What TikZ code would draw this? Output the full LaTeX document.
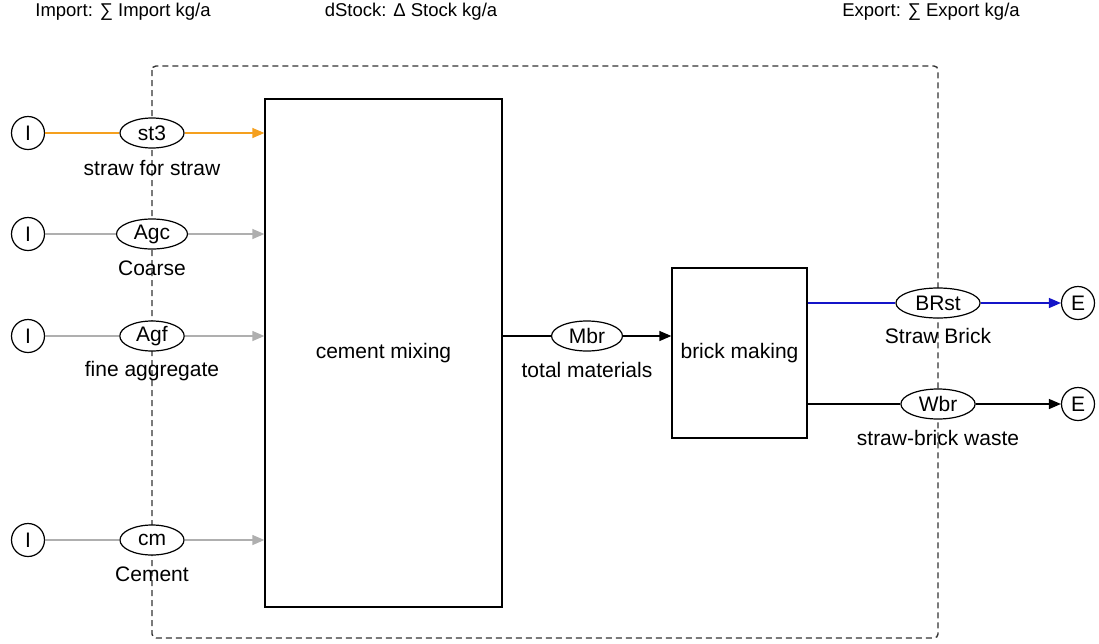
\documentclass[tikz,border=0pt]{standalone}
\usepackage{fontspec}
\setmainfont{Liberation Sans}
\usetikzlibrary{arrows.meta,shapes.geometric}
\definecolor{flowOrange}{RGB}{245,160,30}
\definecolor{flowGray}{RGB}{175,175,175}
\definecolor{flowBlue}{RGB}{20,20,200}
\tikzset{
  every node/.style={font=\fontsize{21}{23}\selectfont},
  headtxt/.style={inner sep=0pt,font=\fontsize{18.5}{20}\selectfont},
  proc/.style={draw,line width=1.3pt,inner sep=0pt},
  term/.style={draw,circle,line width=1.2pt,minimum size=33pt,inner sep=0pt},
  flowell/.style={draw,ellipse,line width=1.2pt,minimum width=64pt,minimum height=30pt,inner xsep=7pt,inner ysep=0pt,fill=white},
  flowlbl/.style={inner sep=0pt},
  conn/.style={line width=1.3pt},
  tip/.style={-{Triangle[length=12pt,width=10pt]}},
  sysb/.style={draw=black!80,line width=1.4pt,dash pattern=on 6pt off 4pt,rounded corners=4pt}
}
\begin{document}
\begin{tikzpicture}[x=1pt,y=-1pt]
\useasboundingbox (0,0) rectangle (1099,643);
% system boundary
\draw[sysb] (152,66) rectangle (938,638);
% header texts
\node[headtxt] (himp) at (123,12) {Import: ∑ Import kg/a};
\node[headtxt] (hst) at (411,12) {dStock: Δ Stock kg/a};
\node[headtxt] (hexp) at (931,12) {Export: ∑ Export kg/a};
% processes
\node[proc,minimum width=237pt,minimum height=508pt] (mix) at (383.5,353) {cement mixing};
\node[proc,minimum width=135pt,minimum height=170pt] (brick) at (739.5,353) {brick making};
% import terminals
\node[term] (i1) at (28,133) {I};
\node[term] (i2) at (28,234) {I};
\node[term] (i3) at (28,336) {I};
\node[term] (i4) at (28,540) {I};
% export terminals
\node[term] (e1) at (1078,303) {E};
\node[term] (e2) at (1078,404) {E};
% flow ellipses
\node[flowell] (st3) at (152,133) {st3};
\node[flowell] (agc) at (152,234) {Agc};
\node[flowell] (agf) at (152,336) {Agf};
\node[flowell] (cm) at (152,540) {cm};
\node[flowell] (mbr) at (587,336) {Mbr};
\node[flowell] (brst) at (938,303) {BRst};
\node[flowell] (wbr) at (938,404) {Wbr};
% flow labels
\node[flowlbl] (lst3) at (152,168) {straw for straw};
\node[flowlbl] (lagc) at (152,268) {Coarse};
\node[flowlbl] (lagf) at (152,371) {fine aggregate};
\node[flowlbl] (lcm) at (152,574) {Cement};
\node[flowlbl] (lmbr) at (587,370) {total materials};
\node[flowlbl] (lbrst) at (938,336) {Straw Brick};
\node[flowlbl] (lwbr) at (938,438) {straw-brick waste};
% connectors
\draw[conn,flowOrange] (i1) -- (st3);
\draw[conn,flowOrange,tip] (st3) -- (st3 -| mix.west);
\draw[conn,flowGray] (i2) -- (agc);
\draw[conn,flowGray,tip] (agc) -- (agc -| mix.west);
\draw[conn,flowGray] (i3) -- (agf);
\draw[conn,flowGray,tip] (agf) -- (agf -| mix.west);
\draw[conn,flowGray] (i4) -- (cm);
\draw[conn,flowGray,tip] (cm) -- (cm -| mix.west);
\draw[conn] (mbr -| mix.east) -- (mbr);
\draw[conn,tip] (mbr) -- (mbr -| brick.west);
\draw[conn,flowBlue] (brst -| brick.east) -- (brst);
\draw[conn,flowBlue,tip] (brst) -- (e1);
\draw[conn] (wbr -| brick.east) -- (wbr);
\draw[conn,tip] (wbr) -- (e2);
\end{tikzpicture}
\end{document}
